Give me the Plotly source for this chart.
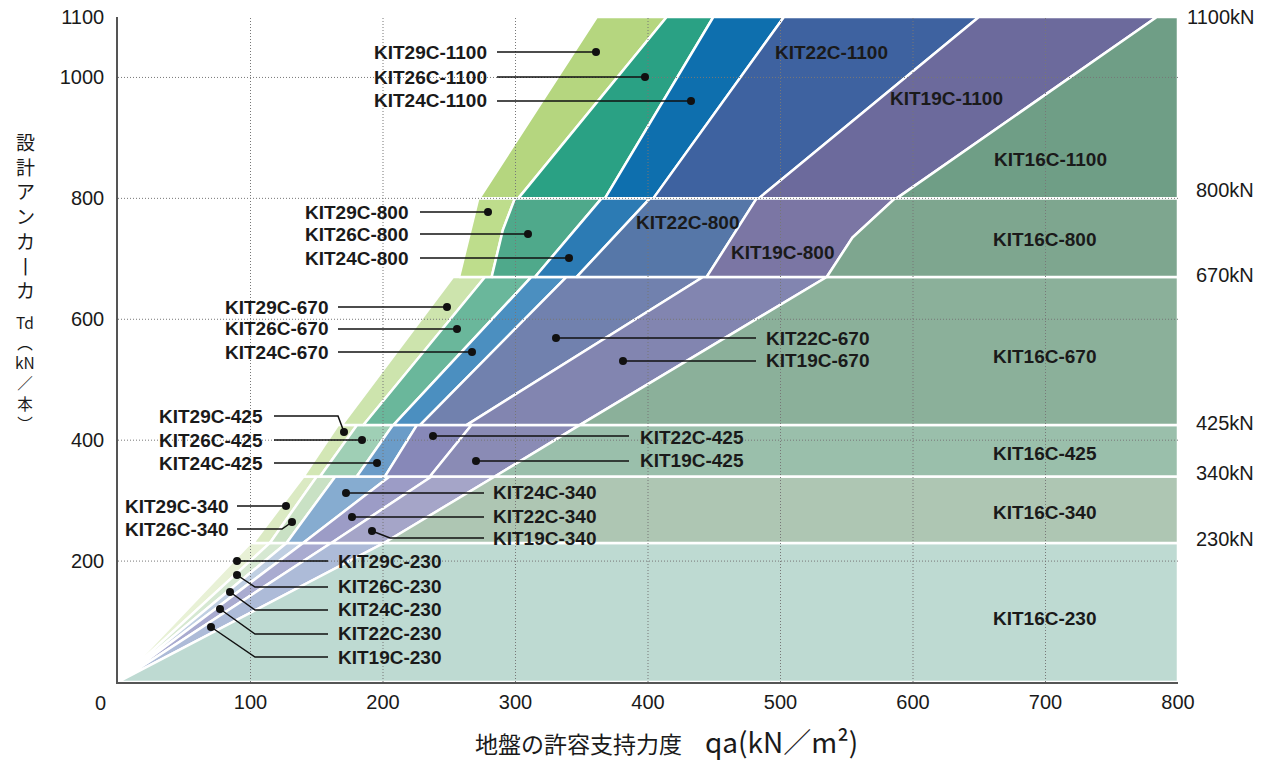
import plotly.graph_objects as go

# ---------------- data ----------------
CAPACITIES = [230, 340, 425, 670, 800, 1100]
PRODUCTS = ["KIT29C", "KIT26C", "KIT24C", "KIT22C", "KIT19C", "KIT16C"]

# product boundaries (qa, kN/m2), for each capacity band: value at the band's
# lower Td and at its upper Td.  Bands: 0-230, 230-340, 340-425, 425-670, 670-800, 800-1100
B0_LOW = [0, 102, 140, 168.9, 257.4, 272.7]
B0_HIGH = [100, 140, 166, 252.8, 271.9, 361.3]
B1_LOW = [0, 114.6, 152.5, 185.2, 282, 302.1]
B1_HIGH = [114.6, 150, 180.4, 277, 299.6, 414.1]
B2_LOW = [0, 127.2, 180.2, 207.8, 314.7, 367.5]
B2_HIGH = [127.2, 164, 207.5, 312, 365, 449.3]
B3_LOW = [0, 139.7, 201.5, 227.9, 346.2, 404]
B3_HIGH = [139.7, 205, 225.6, 338.5, 401.5, 502.6]
B4_LOW = [0, 161, 235.4, 263, 444.3, 483.6]
B4_HIGH = [160.8, 236.7, 266.8, 441.5, 482, 649.7]
B5_LOW = [0, 200.8, 284.4, 348.4, 534.9, 587.6]
B5_HIGH = [200.8, 284.4, 348.4, 534.9, 586.4, 784]
B6_LOW = [800, 800, 800, 800, 800, 800]
B6_HIGH = [800, 800, 800, 800, 800, 800]
# bend points inside the 670-800 band: (boundary index, qa, Td)
BENDS_800 = [(1, 290.5, 748), (5, 554.3, 735)]

# fill colours per product, for capacities 230, 340, 425, 670, 800, 1100
COLORS = {
    "KIT29C": ["#e8f1d6", "#dbeac3", "#d3e7b5", "#cde4ad", "#bedd8c", "#b5d67f"],
    "KIT26C": ["#d6e8d2", "#c9e1c4", "#9fcfb5", "#6ab79b", "#4fa98b", "#2aa184"],
    "KIT24C": ["#c0cfe2", "#86acd0", "#6b9cc8", "#4b8fc0", "#2c7bb4", "#0e6fae"],
    "KIT22C": ["#a9abd0", "#9c9cc6", "#8788b8", "#7181ae", "#5677a8", "#3e62a0"],
    "KIT19C": ["#adbbd8", "#a5a5c8", "#8a8bb5", "#8285b0", "#7b76a4", "#6c6a9c"],
    "KIT16C": ["#bedad2", "#aec6b3", "#9abfab", "#8bb09a", "#7ea68f", "#6f9e86"],
}

X_TICKS = [100, 200, 300, 400, 500, 600, 700, 800]
Y_TICKS = [200, 400, 600, 800, 1000, 1100]
RIGHT_LABELS = ["1100kN", "800kN", "670kN", "425kN", "340kN", "230kN"]

# ---------------- layout helpers ----------------
W, H = 1264, 762
ML, MR, MT, MB = 118, 86, 17, 80
PW, PH = W - ML - MR, H - MT - MB
XMAX, YMAX = 800, 1100


def fx(px):  # page pixel -> paper fraction
    return (px - ML) / PW


def fy(py):
    return (H - MB - py) / PH


def qa_at(px):
    return fx(px) * XMAX


def td_at(py):
    return fy(py) * YMAX


LOWS = [B0_LOW, B1_LOW, B2_LOW, B3_LOW, B4_LOW, B5_LOW, B6_LOW]
HIGHS = [B0_HIGH, B1_HIGH, B2_HIGH, B3_HIGH, B4_HIGH, B5_HIGH, B6_HIGH]


def edge(b, k, lo, hi):
    pts = [(LOWS[b][k], lo)]
    if CAPACITIES[k] == 800:
        pts += [(q, t) for (bi, q, t) in BENDS_800 if bi == b]
    pts.append((HIGHS[b][k], hi))
    return pts


fig = go.Figure()

levels = [0] + CAPACITIES
for k, cap in enumerate(CAPACITIES):
    lo, hi = levels[k], levels[k + 1]
    for i, prod in enumerate(PRODUCTS):
        left = edge(i, k, lo, hi)
        right = edge(i + 1, k, lo, hi)[::-1]
        poly = left + right + [left[0]]
        fig.add_trace(go.Scatter(
            x=[p[0] for p in poly], y=[p[1] for p in poly],
            mode="lines", fill="toself", fillcolor=COLORS[prod][k],
            line=dict(color="white", width=2.5),
            hoverinfo="skip", showlegend=False,
            name=f"{prod}-{cap}"))

# ---------------- gridlines (drawn over the fills, under the callouts) ----------------
gx, gy = [], []
for xv in X_TICKS[:-1]:
    gx += [xv, xv, None]
    gy += [0, YMAX, None]
for yv in Y_TICKS[:-1]:
    gx += [0, XMAX, None]
    gy += [yv, yv, None]
fig.add_trace(go.Scatter(x=gx, y=gy, mode="lines",
                         line=dict(color="#777777", width=1, dash="1px,2px"),
                         hoverinfo="skip", showlegend=False))

# ---------------- callouts ----------------
LABEL_FONT = dict(family="Liberation Sans, Arial, sans-serif", size=19, color="#1a1a1a")
LEFT_CALLOUTS = [
    ("KIT29C-1100", 489, 52, [(497, 52), (596, 52)]),
    ("KIT26C-1100", 489, 77, [(497, 77), (645, 77)]),
    ("KIT24C-1100", 489, 101, [(497, 101), (691, 101)]),
    ("KIT29C-800", 411, 212, [(420, 212), (488, 212)]),
    ("KIT26C-800", 411, 234, [(420, 234), (528, 234)]),
    ("KIT24C-800", 411, 258, [(420, 258), (569, 258)]),
    ("KIT29C-670", 331, 307, [(338, 307), (447, 307)]),
    ("KIT26C-670", 331, 329, [(338, 329), (457, 329)]),
    ("KIT24C-670", 331, 352, [(338, 352), (472, 352)]),
    ("KIT29C-425", 265, 416, [(274, 416), (338, 416), (344, 432)]),
    ("KIT26C-425", 265, 440, [(274, 440), (362, 440)]),
    ("KIT24C-425", 265, 463, [(274, 463), (377, 463)]),
    ("KIT29C-340", 231, 506, [(237, 506), (286, 506)]),
    ("KIT26C-340", 231, 529, [(237, 529), (282, 529), (292, 522)]),
]
RIGHT_CALLOUTS = [
    ("KIT22C-670", 764, 338, [(756, 338), (556, 338)]),
    ("KIT19C-670", 764, 361, [(756, 361), (623, 361)]),
    ("KIT22C-425", 638, 437, [(629, 436), (433, 436)]),
    ("KIT19C-425", 638, 461, [(629, 461), (476, 461)]),
    ("KIT24C-340", 491, 492, [(484, 493), (346, 493)]),
    ("KIT22C-340", 491, 516, [(484, 517), (352, 517)]),
    ("KIT19C-340", 491, 538, [(484, 538), (390, 538), (372, 531)]),
    ("KIT29C-230", 336, 561, [(328, 561), (237, 561)]),
    ("KIT26C-230", 336, 586, [(328, 587), (255, 587), (237, 575)]),
    ("KIT24C-230", 336, 609, [(328, 610), (255, 610), (230, 592)]),
    ("KIT22C-230", 336, 633, [(328, 634), (255, 634), (220, 609)]),
    ("KIT19C-230", 336, 657, [(328, 657), (255, 657), (211, 627)]),
]

lx, ly, dx, dy = [], [], [], []
annotations = []


def note(text, px, py, anchor="center", font=LABEL_FONT):
    annotations.append(dict(x=fx(px), y=fy(py), text=text, xanchor=anchor,
                            yanchor="middle", showarrow=False, font=font,
                            xref="paper", yref="paper"))


for side, items in (("right", LEFT_CALLOUTS), ("left", RIGHT_CALLOUTS)):
    for text, tx, ty, path in items:
        for px, py in path:
            lx.append(qa_at(px))
            ly.append(td_at(py))
        lx.append(None)
        ly.append(None)
        dx.append(qa_at(path[-1][0]))
        dy.append(td_at(path[-1][1]))
        note(f"<b>{text}</b>", tx, ty, side)

fig.add_trace(go.Scatter(x=lx, y=ly, mode="lines", line=dict(color="#111", width=1.5),
                         hoverinfo="skip", showlegend=False, cliponaxis=False))
fig.add_trace(go.Scatter(x=dx, y=dy, mode="markers", marker=dict(color="#111", size=8),
                         hoverinfo="skip", showlegend=False, cliponaxis=False))

REGION_LABELS = [
    ("KIT22C-1100", 831, 52), ("KIT19C-1100", 946, 99), ("KIT16C-1100", 1050, 160),
    ("KIT22C-800", 688, 222), ("KIT19C-800", 783, 252), ("KIT16C-800", 1045, 240),
    ("KIT16C-670", 1045, 356), ("KIT16C-425", 1045, 453), ("KIT16C-340", 1045, 512),
    ("KIT16C-230", 1045, 618),
]
for text, px, py in REGION_LABELS:
    note(f"<b>{text}</b>", px, py)

TICK_FONT = dict(family="Liberation Sans, Arial, sans-serif", size=20, color="#1a1a1a")
RIGHT_LABEL_PY = [17, 190, 275, 423, 473, 539]
for text, py in zip(RIGHT_LABELS, RIGHT_LABEL_PY):
    note(text, 1256, py, "right", TICK_FONT)

note("0", 100, 703, "center", TICK_FONT)

JP = "Noto Sans CJK JP, sans-serif"
# vertical axis title, written top to bottom
note("<br>".join(["設", "計", "ア", "ン", "カ", "丨", "カ"]), 25, 215, "center",
     dict(family=JP, size=19, color="#1a1a1a"))
note("<br>".join(["Td", "︵", "kN", "／", "本", "︶"]), 25, 372, "center",
     dict(family=JP, size=15.5, color="#1a1a1a"))

note('地盤の許容支持力度　<span style="font-size:28px">qa(kN／m²)</span>', 666, 741,
     "center", dict(family=JP, size=23, color="#1a1a1a"))

fig.update_layout(
    width=W, height=H,
    margin=dict(l=ML, r=MR, t=MT, b=MB, pad=0, autoexpand=False),
    paper_bgcolor="white", plot_bgcolor="white",
    showlegend=False,
    annotations=annotations,
    xaxis=dict(range=[0, XMAX], tickvals=X_TICKS, showgrid=False, zeroline=False,
               showline=True, linecolor="#555", linewidth=1.5, ticks="",
               tickfont=TICK_FONT, ticklabelstandoff=1, fixedrange=True,
               automargin=False),
    yaxis=dict(range=[0, YMAX], tickvals=Y_TICKS, showgrid=False, zeroline=False,
               showline=True, linecolor="#555", linewidth=1.5, ticks="",
               tickfont=TICK_FONT, ticklabelstandoff=8, fixedrange=True,
               automargin=False),
)

fig.write_html("out.html", config={"displayModeBar": False},
               post_script="document.body.style.margin='0';")
